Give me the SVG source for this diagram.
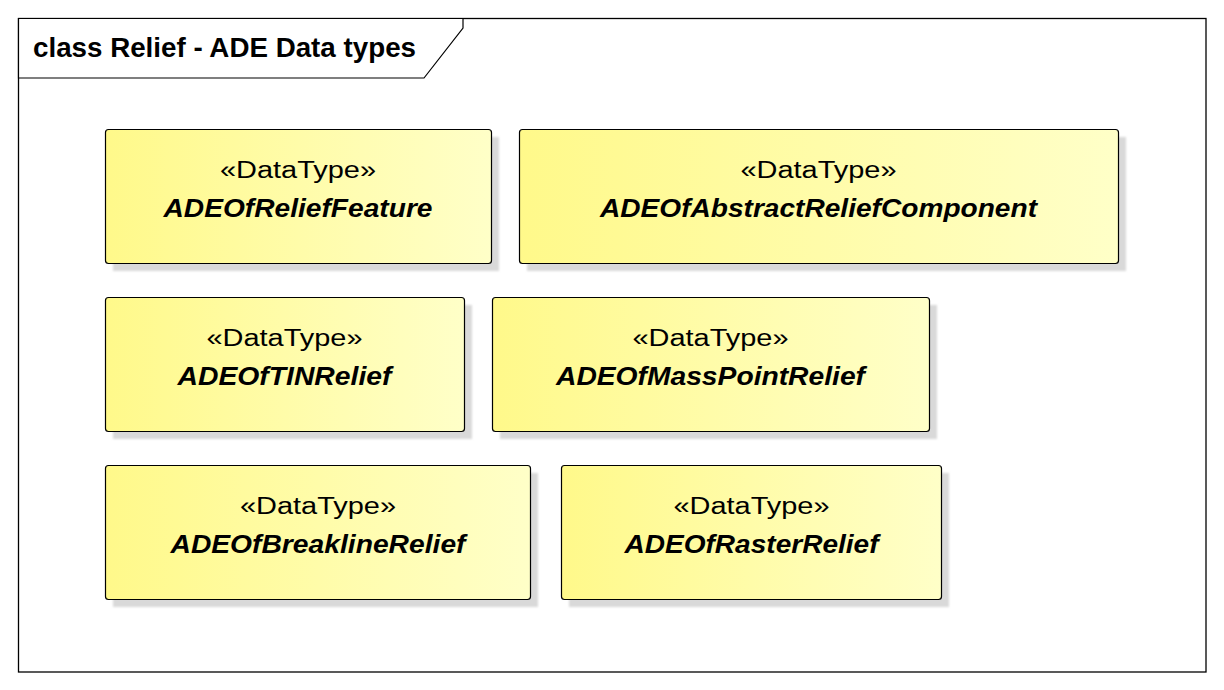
<svg xmlns="http://www.w3.org/2000/svg" width="1224" height="690" viewBox="0 0 1224 690">
<defs>
<linearGradient id="yel" x1="0" y1="0" x2="1" y2="0">
<stop offset="0" stop-color="#FFF98A"/>
<stop offset="1" stop-color="#FFFFC8"/>
</linearGradient>
<filter id="blur" x="-5%" y="-5%" width="110%" height="110%"><feGaussianBlur stdDeviation="1.2"/></filter>
</defs>
<style>
.frame{fill:#ffffff;stroke:#000000;stroke-width:1.3}
.tab{fill:#ffffff;stroke:#000000;stroke-width:1.2}
.title{font-family:"Liberation Sans",Arial,sans-serif;font-weight:bold;font-size:27px;fill:#000000}
.shadow{fill:#d9d9d9;filter:url(#blur)}
.box{fill:url(#yel);stroke:#000000;stroke-width:1.2}
.st{font-family:"Liberation Sans",Arial,sans-serif;font-size:23px;fill:#000000;text-anchor:middle}
.nm{font-family:"Liberation Sans",Arial,sans-serif;font-size:26px;font-weight:bold;font-style:italic;fill:#000000;text-anchor:middle}
</style>
<rect x="0" y="0" width="1224" height="690" fill="#ffffff"/>
<rect class="frame" x="18.5" y="18.5" width="1187.5" height="653.5"/>
<g id="title">
<path class="tab" d="M18.5 18.5 H463 V28 L424 78 H18.5 Z"/>
<text class="title" x="33" y="57" textLength="383" lengthAdjust="spacingAndGlyphs">class Relief - ADE Data types</text>
</g>
<g id="connectors"/>
<g id="ADEOfReliefFeature">
<rect class="shadow" x="113" y="137" width="386" height="134"/>
<rect class="box" x="105.5" y="129.5" width="386" height="134" rx="3"/>
<text class="st" x="298" y="178" textLength="156" lengthAdjust="spacingAndGlyphs">«DataType»</text>
<text class="nm" x="298" y="217" textLength="269" lengthAdjust="spacingAndGlyphs">ADEOfReliefFeature</text>
</g>
<g id="ADEOfAbstractReliefComponent">
<rect class="shadow" x="527" y="137" width="599" height="134"/>
<rect class="box" x="519.5" y="129.5" width="599" height="134" rx="3"/>
<text class="st" x="818.5" y="178" textLength="156" lengthAdjust="spacingAndGlyphs">«DataType»</text>
<text class="nm" x="818.5" y="217" textLength="437" lengthAdjust="spacingAndGlyphs">ADEOfAbstractReliefComponent</text>
</g>
<g id="ADEOfTINRelief">
<rect class="shadow" x="113" y="305" width="359" height="134"/>
<rect class="box" x="105.5" y="297.5" width="359" height="134" rx="3"/>
<text class="st" x="284.5" y="346" textLength="156" lengthAdjust="spacingAndGlyphs">«DataType»</text>
<text class="nm" x="284.5" y="385" textLength="214" lengthAdjust="spacingAndGlyphs">ADEOfTINRelief</text>
</g>
<g id="ADEOfMassPointRelief">
<rect class="shadow" x="500" y="305" width="437" height="134"/>
<rect class="box" x="492.5" y="297.5" width="437" height="134" rx="3"/>
<text class="st" x="710.5" y="346" textLength="156" lengthAdjust="spacingAndGlyphs">«DataType»</text>
<text class="nm" x="710.5" y="385" textLength="309" lengthAdjust="spacingAndGlyphs">ADEOfMassPointRelief</text>
</g>
<g id="ADEOfBreaklineRelief">
<rect class="shadow" x="113" y="473" width="425" height="134"/>
<rect class="box" x="105.5" y="465.5" width="425" height="134" rx="3"/>
<text class="st" x="318" y="514" textLength="156" lengthAdjust="spacingAndGlyphs">«DataType»</text>
<text class="nm" x="318" y="553" textLength="295" lengthAdjust="spacingAndGlyphs">ADEOfBreaklineRelief</text>
</g>
<g id="ADEOfRasterRelief">
<rect class="shadow" x="569" y="473" width="380" height="134"/>
<rect class="box" x="561.5" y="465.5" width="380" height="134" rx="3"/>
<text class="st" x="751.5" y="514" textLength="156" lengthAdjust="spacingAndGlyphs">«DataType»</text>
<text class="nm" x="751.5" y="553" textLength="254" lengthAdjust="spacingAndGlyphs">ADEOfRasterRelief</text>
</g>
</svg>
